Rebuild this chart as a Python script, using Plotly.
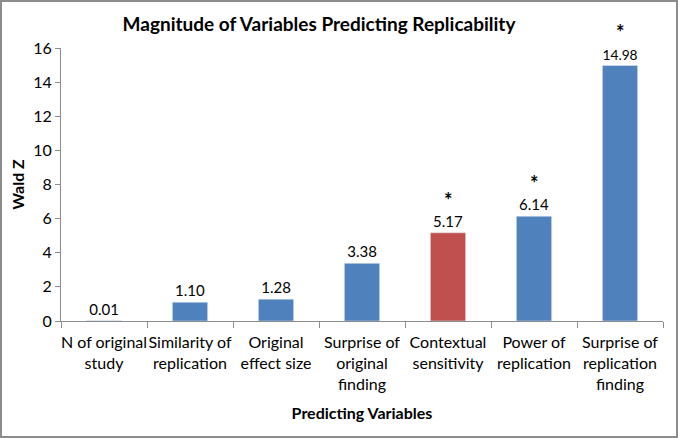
import plotly.graph_objects as go

categories = ["N of original<br>study", "Similarity of<br>replication", "Original<br>effect size",
              "Surprise of<br>original<br>finding", "Contextual<br>sensitivity", "Power of<br>replication",
              "Surprise of<br>replication<br>finding"]
wald_z = [0.01, 1.10, 1.28, 3.38, 5.17, 6.14, 14.98]
value_labels = ["0.01", "1.10", "1.28", "3.38", "5.17", "6.14", "14.98"]
significant = [False, False, False, False, True, True, True]
bar_colors = ["#4F81BD", "#4F81BD", "#4F81BD", "#4F81BD", "#C0504D", "#4F81BD", "#4F81BD"]

W, H = 678, 438
ml, mr, mt, mb = 61, 15, 48, 117
pw, ph = W - ml - mr, H - mt - mb

font = "Lato, sans-serif"

fig = go.Figure(go.Bar(
    x=categories, y=wald_z, marker_color=bar_colors, width=0.41,
    text=value_labels, textposition="outside", cliponaxis=False,
    textfont=dict(size=15, color="black", family=font),
))

# significance stars above the value labels
for cat, val, sig in zip(categories, wald_z, significant):
    if sig:
        fig.add_annotation(x=cat, y=val, text="<b>*</b>", showarrow=False,
                           yanchor="middle", yshift=33, font=dict(size=20, color="black", family=font))

# chart border
fig.add_shape(type="rect", xref="paper", yref="paper",
              x0=-(ml - 1) / pw, x1=1 + (mr - 1) / pw, y0=-(mb - 1) / ph, y1=1 + (mt - 1) / ph,
              line=dict(color="#8c8c8c", width=2))

fig.update_layout(
    width=W, height=H, margin=dict(l=ml, r=mr, t=mt, b=mb),
    paper_bgcolor="white", plot_bgcolor="white", showlegend=False,
    font=dict(family=font, size=16, color="black"),
    title=dict(text="<b>Magnitude of Variables Predicting Replicability</b>", x=319 / W, xanchor="center",
               y=1 - 24 / H, yanchor="middle", font=dict(size=19, color="black", family=font)),
    xaxis=dict(showline=True, linecolor="#8c8c8c", ticks="outside", tickson="boundaries",
               ticklen=6, tickcolor="#8c8c8c", showgrid=False, ticklabelstandoff=7,
               tickfont=dict(size=16), tickangle=0,
               title=dict(text="<b>Predicting Variables</b>", font=dict(size=16), standoff=16)),
    yaxis=dict(range=[0, 16], dtick=2, showline=True, linecolor="#8c8c8c", ticks="outside",
               ticklen=5, tickcolor="#8c8c8c", showgrid=False, zeroline=False,
               tickfont=dict(size=16),
               title=dict(text="<b>Wald Z</b>", font=dict(size=16), standoff=4)),
)

fig.write_html("out.html", config={"displayModeBar": False},
               post_script="document.body.style.margin='0';")
